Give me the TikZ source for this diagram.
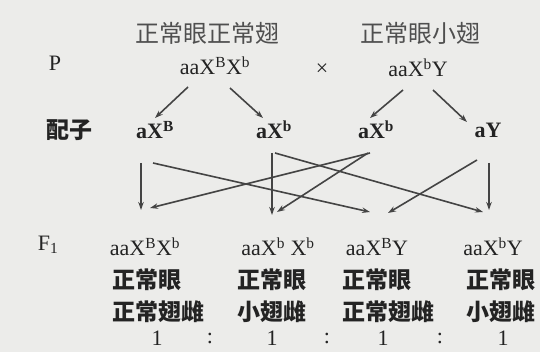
\documentclass[tikz,border=0pt]{standalone}
\usepackage{fontspec}
\setmainfont{Liberation Serif}
\newfontfamily\cjk{Noto Sans CJK SC}
\usetikzlibrary{arrows.meta}
\definecolor{fond}{RGB}{236,236,234}
\definecolor{encre}{RGB}{35,35,35}
\tikzset{
  lat/.style={font=\fontsize{22}{25}\selectfont, text=encre, inner sep=1pt},
  latb/.style={lat, font=\bfseries\fontsize{22}{25}\selectfont},
  han/.style={font=\cjk\fontsize{24}{28}\selectfont, text=encre!80, inner sep=1pt},
  hanb/.style={font=\cjk\bfseries\fontsize{23}{27}\selectfont, text=encre, inner sep=1pt, anchor=west},
  fleche/.style={-{Stealth[length=8pt,width=5.5pt]}, line width=1.6pt, draw=encre!85},
}
\begin{document}
\begin{tikzpicture}[x=1pt,y=-1pt] % 1 unité = 1 px, y vers le bas

% --------- PARAMÈTRES ----------
\def\yT{33}    % phénotypes des parents
\def\yP{66}    % génotypes P
\def\yG{130}   % gamètes
\def\yF{247}   % F1
\def\yA{280}   % yeux
\def\yB{312}   % ailes
\def\yR{338}   % rapport
% --------------------------------

\fill[fond] (0,0) rectangle (540,352);
\useasboundingbox (0,0) rectangle (540,352);

% Parents
\node[han] (phf) at (207,\yT) {正常眼正常翅};
\node[han] (phm) at (420,\yT) {正常眼小翅};
\node[lat] (p) at (55,\yP-3) {P};
\node[lat] (pf) at (215,\yP) {aaX\textsuperscript{B}X\textsuperscript{b}};
\node[lat] (croix) at (322,\yP+4) {×};
\node[lat] (pm) at (418,\yP+2) {aaX\textsuperscript{b}Y};

% Gamètes
\node[hanb] (gz) at (45,\yG) {配子};
\node[latb] (g1) at (155,\yG) {aX\textsuperscript{B}};
\node[latb] (g2) at (274,\yG) {aX\textsuperscript{b}};
\node[latb] (g3) at (376,\yG) {aX\textsuperscript{b}};
\node[latb] (g4) at (488,\yG) {aY};

% P -> gamètes
\draw[fleche] ([shift={(-27,21)}]pf.center) -- ([shift={(0,-12)}]g1.center);
\draw[fleche] ([shift={(15,22)}]pf.center) -- ([shift={(-11,-12)}]g2.center);
\draw[fleche] ([shift={(-15,22)}]pm.center) -- ([shift={(-6,-12)}]g3.center);
\draw[fleche] ([shift={(15,22)}]pm.center) -- ([shift={(-21,-8)}]g4.center);

% F1
\node[lat] (f) at (48,\yF-2) {F\textsubscript{1}};
\node[lat] (o1) at (145,\yF) {aaX\textsuperscript{B}X\textsuperscript{b}};
\node[lat] (o2) at (278,\yF) {aaX\textsuperscript{b} X\textsuperscript{b}};
\node[lat] (o3) at (377,\yF) {aaX\textsuperscript{B}Y};
\node[lat] (o4) at (493,\yF) {aaX\textsuperscript{b}Y};

% Gamètes -> F1 (fécondation)
\draw[fleche] ([shift={(-14,33)}]g1.center) -- ([shift={(-4,-37)}]o1.center);
\draw[fleche] ([shift={(-2,33)}]g1.center) -- ([shift={(-7,-35)}]o3.center);
\draw[fleche] ([shift={(-2,23)}]g2.center) -- ([shift={(-6,-32)}]o2.center);
\draw[fleche] ([shift={(1,23)}]g2.center) -- ([shift={(-10,-35)}]o4.center);
\draw[fleche] ([shift={(-6,23)}]g3.center) -- ([shift={(5,-39)}]o1.center);
\draw[fleche] ([shift={(-8,23)}]g3.center) -- ([shift={(-1,-35)}]o2.center);
\draw[fleche] ([shift={(-11,30)}]g4.center) -- ([shift={(11,-34)}]o3.center);
\draw[fleche] ([shift={(1,33)}]g4.center) -- ([shift={(-4,-37)}]o4.center);

% Phénotypes
\node[hanb] (a1) at (111,\yA) {正常眼};
\node[hanb] (b1) at (111,\yB) {正常翅雌};
\node[hanb] (a2) at (236,\yA) {正常眼};
\node[hanb] (b2) at (236,\yB) {小翅雌};
\node[hanb] (a3) at (341,\yA) {正常眼};
\node[hanb] (b3) at (341,\yB) {正常翅雌};
\node[hanb] (a4) at (465,\yA) {正常眼};
\node[hanb] (b4) at (465,\yB) {小翅雌};

% Rapport 1 : 1 : 1 : 1
\foreach \x/\t [count=\i] in {157/1,210/:,272/1,327/:,383/1,440/:,503/1}
  \node[lat] (r\i) at (\x,\yR) {\t};

\end{tikzpicture}
\end{document}
